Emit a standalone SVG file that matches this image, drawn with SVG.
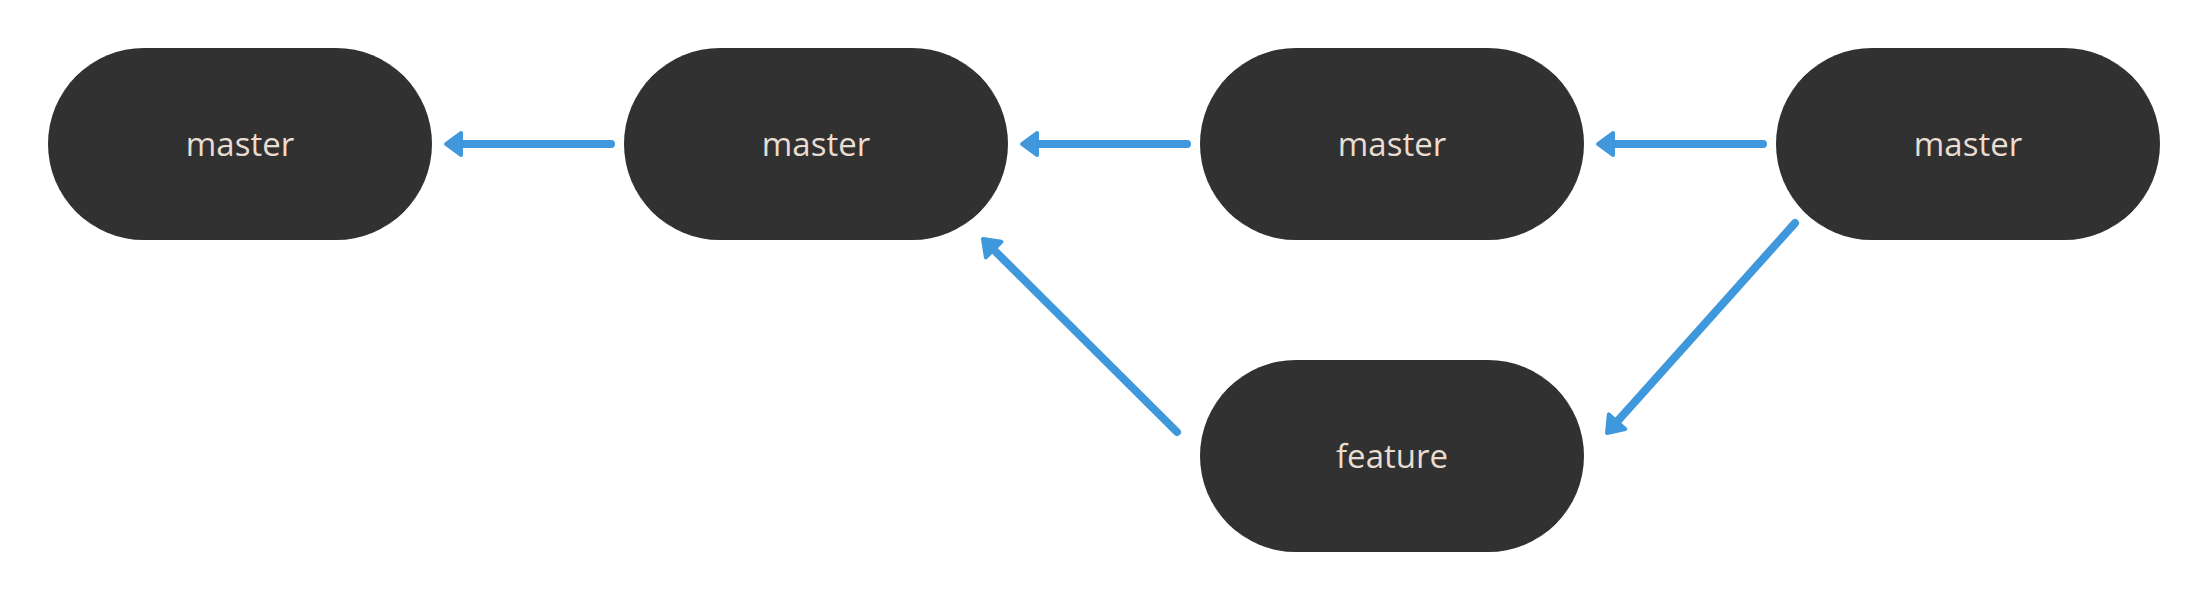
<svg xmlns="http://www.w3.org/2000/svg" width="2208" height="600" viewBox="0 0 2208 600">
<style>
.node rect{fill:#313131}
.node text{fill:#e8ddd0;font-family:"Open Sans","DejaVu Sans",sans-serif;font-size:33px;font-weight:500;text-anchor:middle}
.edge{stroke:#3f98db;stroke-width:8;stroke-linecap:round;fill:none;marker-end:url(#ah)}
</style>
<defs>
<marker id="ah" markerUnits="userSpaceOnUse" orient="auto" refX="0" refY="0" overflow="visible">
<path d="M12,0 L-3,-11 L-3,11 Z" fill="#3f98db" stroke="#3f98db" stroke-width="4" stroke-linejoin="round"/>
</marker>
</defs>
<rect width="2208" height="600" fill="#ffffff"/>
<g id="connectors">
<line class="edge" x1="611" y1="144" x2="458" y2="144"/>
<line class="edge" x1="1187" y1="144" x2="1034" y2="144"/>
<line class="edge" x1="1763" y1="144" x2="1610" y2="144"/>
<line class="edge" x1="1177" y1="432" x2="991.5" y2="247.5"/>
<line class="edge" x1="1795" y1="223" x2="1615" y2="424"/>
</g>
<g id="node1" class="node"><rect x="48" y="48" width="384" height="192" rx="96" ry="96"/><text x="240" y="156">master</text></g>
<g id="node2" class="node"><rect x="624" y="48" width="384" height="192" rx="96" ry="96"/><text x="816" y="156">master</text></g>
<g id="node3" class="node"><rect x="1200" y="48" width="384" height="192" rx="96" ry="96"/><text x="1392" y="156">master</text></g>
<g id="node4" class="node"><rect x="1776" y="48" width="384" height="192" rx="96" ry="96"/><text x="1968" y="156">master</text></g>
<g id="node5" class="node"><rect x="1200" y="360" width="384" height="192" rx="96" ry="96"/><text x="1392" y="468">feature</text></g>
</svg>
